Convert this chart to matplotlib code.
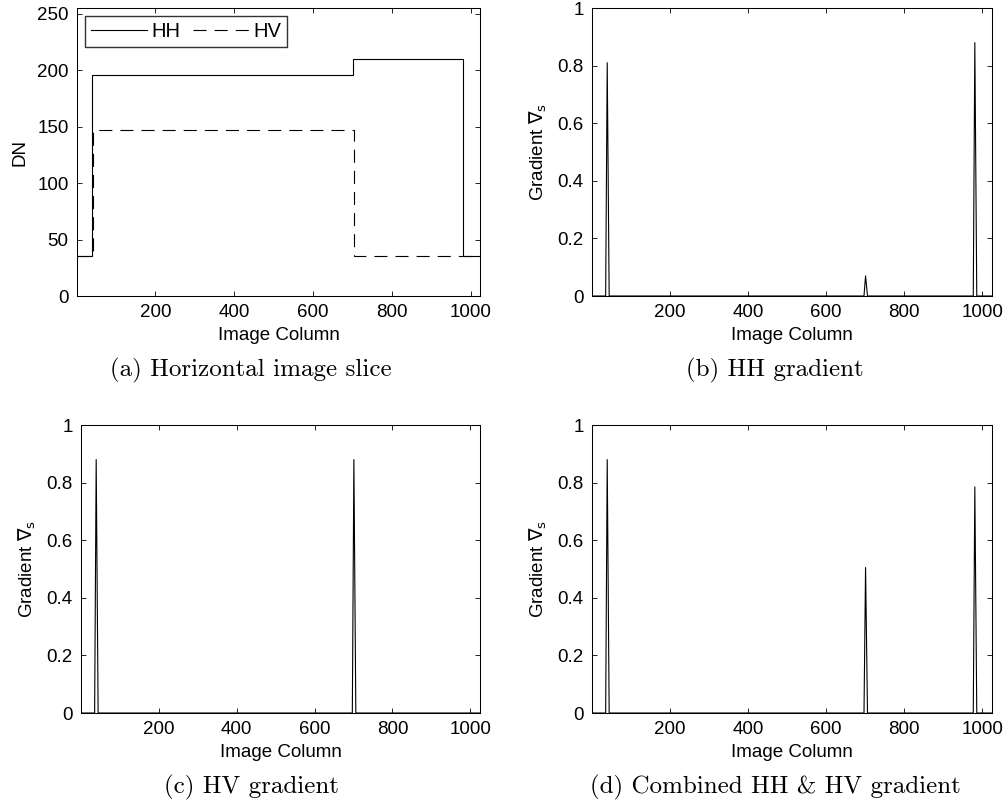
import numpy as np
import matplotlib
matplotlib.use("Agg")
import matplotlib.pyplot as plt

# ---- data ----
# (a) horizontal image slice, piecewise constant DN
hh_edges = [1, 38, 702, 982, 1024]
hh_levels = [35, 196, 210, 35]
hv_edges = [1, 41, 703, 1024]
hv_levels = [35, 147, 35]

# gradient spikes: column of the edge and peak height
spike_cols = [39, 701, 981]
hh_peaks = [0.81, 0.07, 0.88]
hv_peaks = [0.88, 0.88, 0.0]
comb_peaks = [0.88, 0.505, 0.785]

n_cols = 1024

plt.rcParams['font.family'] = ['Liberation Sans', 'DejaVu Sans']
plt.rcParams['mathtext.fontset'] = 'dejavusans'
plt.rcParams['lines.scale_dashes'] = False
plt.rcParams['axes.linewidth'] = 0.75


def spike_profile(cols, peaks):
    # zero baseline with a narrow triangle at each edge
    xs, ys = [1], [0.0]
    for c, p in zip(cols, peaks):
        if p <= 0:
            continue
        xs += [c - 4, c, c + 5]
        ys += [0.0, p, 0.0]
    xs.append(n_cols)
    ys.append(0.0)
    return np.array(xs), np.array(ys)


def style_axes(ax, xlim, ylim, yticks):
    ax.set_xlim(*xlim)
    ax.set_ylim(*ylim)
    ax.set_xticks([200, 400, 600, 800, 1000])
    ax.set_yticks(yticks)
    ax.tick_params(direction='in', top=True, right=True, length=3.5,
                   width=0.6, labelsize=13.5, pad=6)
    ax.set_xlabel('Image Column', fontsize=13.5, labelpad=4)


fig = plt.figure(figsize=(10.07, 8.06), dpi=100)

ax_a = fig.add_axes([0.07646, 0.63275, 0.40020, 0.35732])
ax_b = fig.add_axes([0.58788, 0.63275, 0.39722, 0.35732])
ax_c = fig.add_axes([0.08044, 0.11538, 0.39623, 0.35732])
ax_d = fig.add_axes([0.58788, 0.11538, 0.39722, 0.35732])

# (a)
ax_a.stairs(hh_levels, hh_edges, baseline=None, color='black', lw=0.8, label='HH')
ax_a.stairs(hv_levels, hv_edges, baseline=None, color='black', lw=0.8,
            linestyle=(0, (9.4, 5.8)), label='HV')
style_axes(ax_a, (1, 1024), (0, 255), [0, 50, 100, 150, 200, 250])
ax_a.set_ylabel('DN', fontsize=13.5, labelpad=6)
leg = ax_a.legend(loc='upper left', ncol=2, fontsize=14.5, frameon=True, fancybox=False,
                  handlelength=2.8, handletextpad=0.2, columnspacing=0.6,
                  borderpad=0.3, borderaxespad=0.4)
leg.get_frame().set_edgecolor('black')
leg.get_frame().set_linewidth(1.0)

grad_label = r'Gradient $\nabla_\mathrm{s}$'
gy = [0, 0.2, 0.4, 0.6, 0.8, 1]
glabels = ['0', '0.2', '0.4', '0.6', '0.8', '1']

for ax, peaks in [(ax_b, hh_peaks), (ax_c, hv_peaks), (ax_d, comb_peaks)]:
    x, y = spike_profile(spike_cols, peaks)
    ax.plot(x, y, color='black', lw=0.8)
    style_axes(ax, (0, 1025), (0, 1), gy)
    ax.set_yticklabels(glabels)
    ax.set_ylabel(grad_label, fontsize=13.5, labelpad=6)

# sub-figure captions
cap = dict(family='cmr10', fontsize=18, ha='center', va='center')
fig.text(251 / 1007, 1 - 370 / 806, '(a) Horizontal image slice', **cap)
fig.text(775 / 1007, 1 - 370 / 806, '(b) HH gradient', **cap)
fig.text(251 / 1007, 1 - 787 / 806, '(c) HV gradient', **cap)
fig.text(775 / 1007, 1 - 787 / 806, '(d) Combined HH & HV gradient', **cap)

fig.savefig('out.png', dpi=100)
